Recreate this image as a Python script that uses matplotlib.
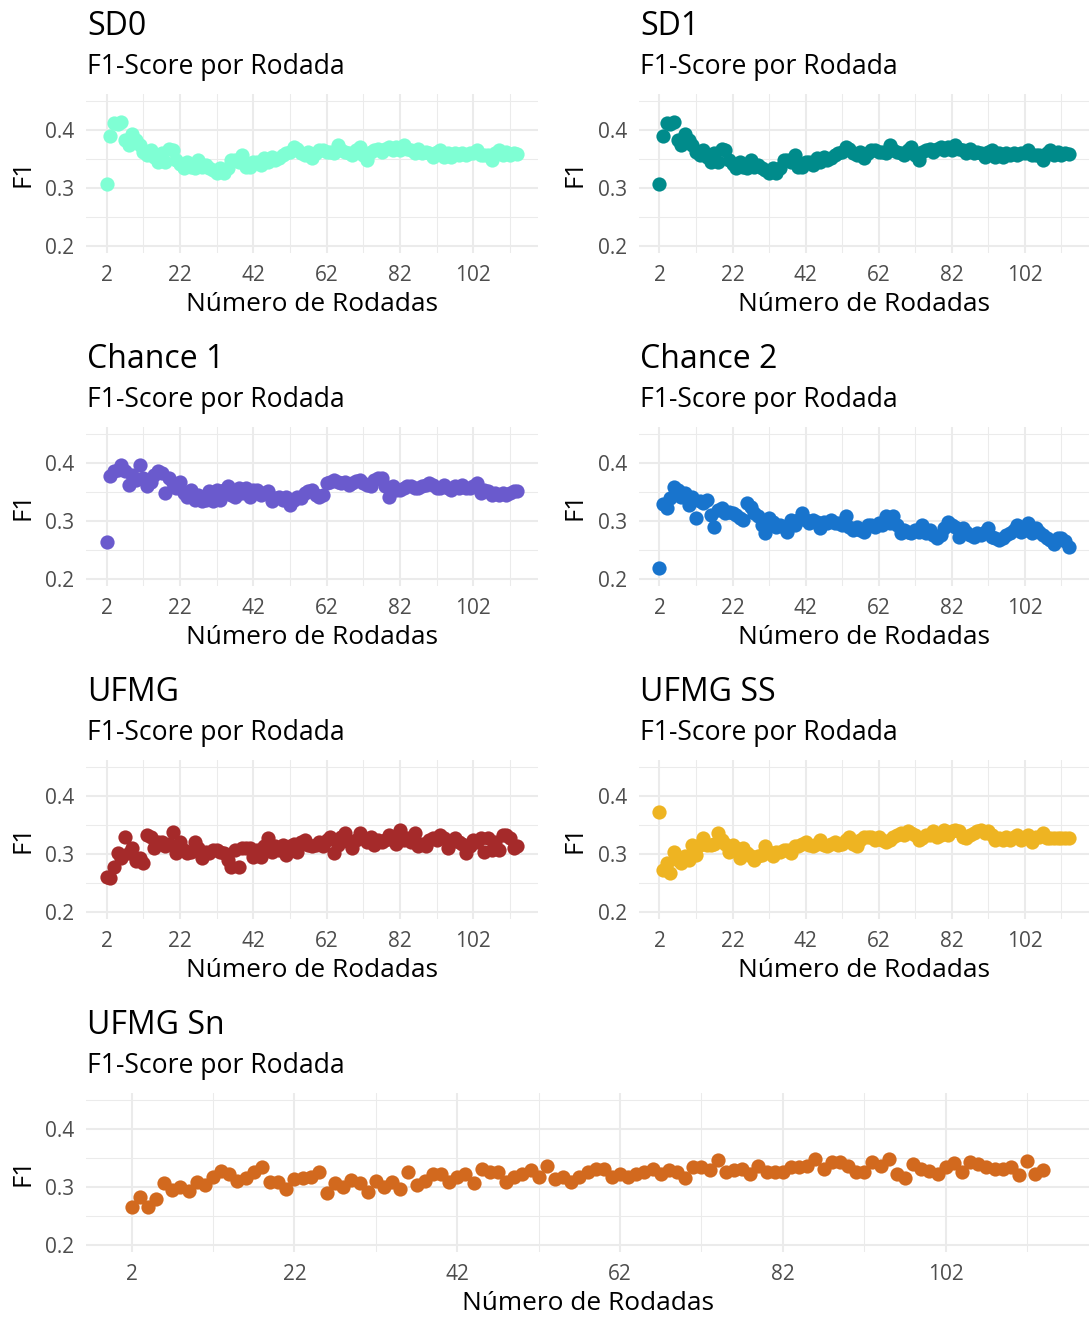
import numpy as np
import matplotlib
matplotlib.use("Agg")
import matplotlib.pyplot as plt

plt.rcParams["font.family"] = ["Open Sans", "DejaVu Sans"]

# ---- data -------------------------------------------------------------
rodadas = np.arange(2, 115)
x_breaks = [2, 22, 42, 62, 82, 102]
x_minor = [12, 32, 52, 72, 92, 112]
y_breaks = [0.2, 0.3, 0.4]
y_minor = [0.25, 0.35, 0.45]
y_labels = ["0.2", "0.3", "0.4"]

f1_sd0 = [
    0.307, 0.390, 0.412, 0.410, 0.414, 0.383, 0.374, 0.394, 0.383, 0.374,
    0.362, 0.357, 0.365, 0.354, 0.345, 0.360, 0.345, 0.368, 0.365, 0.348,
    0.341, 0.334, 0.345, 0.336, 0.334, 0.348, 0.336, 0.339, 0.334, 0.331,
    0.325, 0.334, 0.325, 0.334, 0.348, 0.348, 0.345, 0.357, 0.336, 0.336,
    0.345, 0.345, 0.339, 0.351, 0.345, 0.354, 0.348, 0.351, 0.357, 0.360,
    0.362, 0.371, 0.368, 0.360, 0.357, 0.362, 0.351, 0.360, 0.365, 0.366,
    0.362, 0.362, 0.360, 0.374, 0.365, 0.362, 0.360, 0.357, 0.365, 0.370,
    0.357, 0.348, 0.362, 0.365, 0.368, 0.362, 0.368, 0.371, 0.365, 0.371,
    0.365, 0.374, 0.368, 0.365, 0.360, 0.368, 0.360, 0.362, 0.360, 0.354,
    0.362, 0.365, 0.354, 0.360, 0.354, 0.360, 0.357, 0.360, 0.357, 0.360,
    0.360, 0.365, 0.357, 0.357, 0.357, 0.348, 0.360, 0.365, 0.357, 0.362,
    0.357, 0.360, 0.358,
]

f1_sd1 = [
    0.307, 0.389, 0.412, 0.410, 0.414, 0.383, 0.374, 0.394, 0.383, 0.374,
    0.362, 0.357, 0.365, 0.354, 0.345, 0.360, 0.345, 0.368, 0.365, 0.348,
    0.341, 0.334, 0.345, 0.336, 0.334, 0.348, 0.336, 0.339, 0.334, 0.331,
    0.325, 0.334, 0.325, 0.334, 0.348, 0.348, 0.345, 0.357, 0.336, 0.336,
    0.345, 0.345, 0.339, 0.351, 0.345, 0.354, 0.348, 0.351, 0.357, 0.360,
    0.362, 0.371, 0.368, 0.360, 0.357, 0.362, 0.351, 0.360, 0.365, 0.366,
    0.362, 0.362, 0.360, 0.374, 0.365, 0.362, 0.360, 0.357, 0.365, 0.370,
    0.357, 0.348, 0.362, 0.365, 0.368, 0.362, 0.368, 0.371, 0.365, 0.371,
    0.365, 0.374, 0.368, 0.365, 0.360, 0.368, 0.360, 0.362, 0.360, 0.354,
    0.362, 0.365, 0.354, 0.360, 0.354, 0.360, 0.357, 0.360, 0.357, 0.360,
    0.360, 0.365, 0.357, 0.357, 0.357, 0.348, 0.360, 0.365, 0.357, 0.362,
    0.357, 0.360, 0.358,
]

f1_chance1 = [
    0.264, 0.377, 0.386, 0.388, 0.397, 0.386, 0.362, 0.380, 0.371, 0.396,
    0.374, 0.360, 0.368, 0.380, 0.386, 0.383, 0.348, 0.374, 0.365, 0.357,
    0.368, 0.348, 0.342, 0.354, 0.336, 0.345, 0.334, 0.336, 0.351, 0.334,
    0.354, 0.336, 0.354, 0.360, 0.345, 0.342, 0.357, 0.348, 0.357, 0.342,
    0.354, 0.354, 0.345, 0.348, 0.351, 0.334, 0.339, 0.342, 0.336, 0.342,
    0.328, 0.336, 0.342, 0.339, 0.348, 0.351, 0.354, 0.345, 0.342, 0.345,
    0.365, 0.368, 0.371, 0.368, 0.365, 0.368, 0.362, 0.365, 0.369, 0.371,
    0.365, 0.362, 0.360, 0.371, 0.374, 0.374, 0.360, 0.342, 0.360, 0.354,
    0.354, 0.357, 0.360, 0.360, 0.357, 0.357, 0.360, 0.362, 0.365, 0.362,
    0.357, 0.357, 0.362, 0.357, 0.354, 0.360, 0.357, 0.362, 0.357, 0.357,
    0.360, 0.365, 0.348, 0.354, 0.351, 0.345, 0.348, 0.345, 0.348, 0.345,
    0.348, 0.351, 0.351,
]

f1_chance2 = [
    0.218, 0.329, 0.322, 0.339, 0.358, 0.354, 0.342, 0.348, 0.328, 0.342,
    0.305, 0.334, 0.331, 0.336, 0.310, 0.290, 0.319, 0.322, 0.313, 0.316,
    0.313, 0.310, 0.305, 0.302, 0.331, 0.325, 0.313, 0.308, 0.293, 0.279,
    0.305, 0.299, 0.290, 0.293, 0.290, 0.281, 0.302, 0.293, 0.302, 0.313,
    0.302, 0.296, 0.302, 0.299, 0.287, 0.299, 0.296, 0.302, 0.296, 0.296,
    0.293, 0.308, 0.290, 0.284, 0.290, 0.284, 0.281, 0.293, 0.293, 0.290,
    0.296, 0.293, 0.308, 0.296, 0.308, 0.293, 0.279, 0.284, 0.281, 0.279,
    0.284, 0.281, 0.293, 0.279, 0.284, 0.276, 0.270, 0.276, 0.287, 0.299,
    0.293, 0.290, 0.273, 0.287, 0.281, 0.276, 0.273, 0.279, 0.276, 0.281,
    0.287, 0.273, 0.270, 0.267, 0.270, 0.276, 0.279, 0.284, 0.293, 0.281,
    0.284, 0.296, 0.279, 0.287, 0.281, 0.276, 0.270, 0.267, 0.261, 0.270,
    0.270, 0.265, 0.255,
]

f1_ufmg = [
    0.261, 0.258, 0.278, 0.301, 0.293, 0.330, 0.301, 0.310, 0.287, 0.293,
    0.284, 0.333, 0.330, 0.310, 0.321, 0.321, 0.313, 0.318, 0.338, 0.301,
    0.321, 0.307, 0.301, 0.304, 0.321, 0.310, 0.293, 0.304, 0.301, 0.307,
    0.307, 0.304, 0.301, 0.290, 0.278, 0.307, 0.278, 0.310, 0.310, 0.310,
    0.295, 0.307, 0.295, 0.313, 0.327, 0.304, 0.313, 0.307, 0.316, 0.298,
    0.313, 0.318, 0.304, 0.321, 0.324, 0.316, 0.313, 0.316, 0.321, 0.313,
    0.324, 0.330, 0.301, 0.316, 0.330, 0.336, 0.321, 0.310, 0.324, 0.336,
    0.327, 0.321, 0.330, 0.316, 0.324, 0.321, 0.324, 0.333, 0.324, 0.318,
    0.341, 0.324, 0.327, 0.321, 0.336, 0.313, 0.318, 0.313, 0.324, 0.327,
    0.324, 0.333, 0.327, 0.310, 0.321, 0.327, 0.321, 0.318, 0.301, 0.313,
    0.324, 0.321, 0.327, 0.304, 0.327, 0.307, 0.321, 0.307, 0.333, 0.333,
    0.327, 0.310, 0.313,
]

f1_ufmg_ss = [
    0.373, 0.272, 0.284, 0.267, 0.304, 0.290, 0.284, 0.296, 0.290, 0.316,
    0.298, 0.316, 0.327, 0.316, 0.316, 0.318, 0.336, 0.324, 0.318, 0.304,
    0.316, 0.310, 0.293, 0.310, 0.301, 0.296, 0.290, 0.296, 0.298, 0.314,
    0.304, 0.296, 0.304, 0.304, 0.307, 0.307, 0.301, 0.313, 0.313, 0.318,
    0.321, 0.316, 0.313, 0.318, 0.324, 0.316, 0.313, 0.318, 0.321, 0.316,
    0.318, 0.324, 0.330, 0.318, 0.313, 0.324, 0.330, 0.330, 0.330, 0.324,
    0.330, 0.324, 0.321, 0.324, 0.330, 0.333, 0.336, 0.333, 0.339, 0.336,
    0.333, 0.324, 0.327, 0.333, 0.333, 0.339, 0.330, 0.333, 0.341, 0.333,
    0.339, 0.341, 0.339, 0.330, 0.327, 0.333, 0.336, 0.339, 0.341, 0.336,
    0.339, 0.333, 0.324, 0.327, 0.324, 0.330, 0.324, 0.330, 0.333, 0.324,
    0.330, 0.333, 0.321, 0.330, 0.330, 0.336, 0.327, 0.327, 0.327, 0.327,
    0.327, 0.327, 0.327,
]

f1_ufmg_sn = [
    0.266, 0.282, 0.266, 0.280, 0.306, 0.295, 0.300, 0.293, 0.308, 0.303,
    0.318, 0.328, 0.323, 0.310, 0.316, 0.326, 0.334, 0.308, 0.308, 0.297,
    0.314, 0.316, 0.317, 0.326, 0.290, 0.306, 0.300, 0.312, 0.306, 0.291,
    0.311, 0.300, 0.308, 0.297, 0.326, 0.303, 0.310, 0.323, 0.323, 0.308,
    0.317, 0.323, 0.306, 0.331, 0.326, 0.326, 0.308, 0.318, 0.323, 0.330,
    0.318, 0.337, 0.314, 0.317, 0.308, 0.317, 0.326, 0.331, 0.331, 0.317,
    0.323, 0.317, 0.323, 0.326, 0.331, 0.323, 0.330, 0.326, 0.316, 0.335,
    0.335, 0.330, 0.347, 0.326, 0.330, 0.331, 0.323, 0.337, 0.326, 0.326,
    0.326, 0.335, 0.334, 0.337, 0.348, 0.331, 0.343, 0.343, 0.337, 0.326,
    0.326, 0.343, 0.337, 0.348, 0.323, 0.316, 0.340, 0.331, 0.328, 0.323,
    0.334, 0.341, 0.326, 0.343, 0.340, 0.334, 0.331, 0.331, 0.334, 0.320,
    0.345, 0.323, 0.330,
]

titles = ["SD0", "SD1", "Chance 1", "Chance 2", "UFMG", "UFMG SS", "UFMG Sn"]
series = [f1_sd0, f1_sd1, f1_chance1, f1_chance2, f1_ufmg, f1_ufmg_ss, f1_ufmg_sn]
colors = ["#7FFFD4", "#008B8B", "#6A5ACD", "#1874CD", "#A52A2A", "#EEB422", "#D2691E"]
subtitle = "F1-Score por Rodada"
xlab = "Número de Rodadas"
ylab = "F1"

# ---- layout (pixel geometry) ------------------------------------------
W, H = 1089, 1318
fig = plt.figure(figsize=(W / 100, H / 100), dpi=100)
fig.patch.set_facecolor("white")

row_top = [94, 427, 760, 1093]
panel_h = 159
cols = {0: (86, 538), 1: (639, 1089), 2: (86, 1089)}
slots = [(0, 0), (0, 1), (1, 0), (1, 1), (2, 0), (2, 1), (3, 2)]

grid_col = "#EBEBEB"
tick_col = "#4D4D4D"

for title, vals, col, (r, c) in zip(titles, series, colors, slots):
    x0, x1 = cols[c]
    top = row_top[r]
    ax = fig.add_axes([x0 / W, 1 - (top + panel_h) / H, (x1 - x0) / W, panel_h / H])
    ax.set_facecolor("white")
    ax.scatter(rodadas, vals, s=105, color=col, linewidths=0, zorder=3)
    ax.set_xlim(-3.6, 119.6)
    ax.set_ylim(0.1875, 0.4625)
    ax.set_xticks(x_breaks)
    ax.set_xticks(x_minor, minor=True)
    ax.set_yticks(y_breaks)
    ax.set_yticklabels(y_labels)
    ax.set_yticks(y_minor, minor=True)
    ax.grid(which="major", color=grid_col, linewidth=1.45)
    ax.grid(which="minor", color=grid_col, linewidth=0.75)
    ax.set_axisbelow(True)
    for s in ax.spines.values():
        s.set_visible(False)
    ax.tick_params(which="both", length=0, labelsize=15, labelcolor=tick_col)
    ax.tick_params(axis="x", pad=8.5)
    ax.tick_params(axis="y", pad=8.5)

    off = 333 * r
    tx = 87 if c != 1 else 640
    fig.text(tx / W, 1 - (35 + off) / H, title, fontsize=23, va="baseline", ha="left")
    fig.text(tx / W, 1 - (74 + off) / H, subtitle, fontsize=19.1, va="baseline", ha="left")
    fig.text(((x0 + x1) / 2) / W, 1 - (311 + off) / H, xlab, fontsize=18.9,
             va="baseline", ha="center")
    ylx = 22.5 if c != 1 else 575.5
    fig.text(ylx / W, 1 - (top + panel_h / 2) / H, ylab, fontsize=18.5,
             rotation=90, va="center", ha="center")

fig.savefig("out.png", dpi=100, facecolor="white")
